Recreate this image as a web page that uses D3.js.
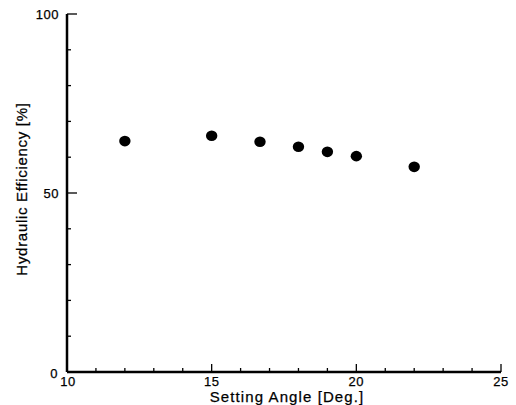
<!DOCTYPE html>
<html><head><meta charset="utf-8">
<script src="https://cdn.jsdelivr.net/npm/d3@7"></script>
<style>body{margin:0;background:#fff}svg{display:block}text{font-family:"Liberation Sans",Arial,sans-serif;fill:#000;stroke:#000;stroke-width:0.25px}</style>
</head><body><svg id="c" width="516" height="405"></svg>
<script>
const angles = [12, 15, 16.67, 18, 19, 20, 22];
const efficiency = [64.5, 66.0, 64.3, 62.9, 61.5, 60.3, 57.3];
const xTicks = [10, 15, 20, 25];
const yTicks = [0, 50, 100];

const svg = d3.select("#c");
const x = d3.scaleLinear().domain([10, 25]).range([67, 501]);
const y = d3.scaleLinear().domain([0, 100]).range([372, 14]);

// x axis
const xa = svg.append("g").attr("transform", `translate(0,${y(0)})`);
xa.append("line").attr("x1", x(10)).attr("x2", x(25)).attr("stroke", "#000").attr("stroke-width", 2.5);
xa.selectAll(".mn").data(d3.range(10, 26)).enter().append("line")
  .attr("x1", d => x(d)).attr("x2", d => x(d)).attr("y1", 0)
  .attr("y2", d => xTicks.includes(d) ? -8 : -4).attr("stroke", "#000").attr("stroke-width", 1.3);
xa.selectAll(".lb").data(xTicks).enter().append("text")
  .attr("x", d => x(d) + (d === 10 ? 1 : 0)).attr("y", 13.5).attr("text-anchor", "middle")
  .attr("font-size", 13).attr("letter-spacing", 0.5).text(d => d);

// y axis
const ya = svg.append("g").attr("transform", `translate(${x(10)},0)`);
ya.append("line").attr("y1", y(0)).attr("y2", y(100)).attr("stroke", "#000").attr("stroke-width", 2.5);
ya.selectAll(".mn").data(d3.range(0, 101, 10)).enter().append("line")
  .attr("y1", d => y(d)).attr("y2", d => y(d)).attr("x1", 0)
  .attr("x2", d => yTicks.includes(d) ? 10 : 4).attr("stroke", "#000").attr("stroke-width", 1.3);
ya.selectAll(".lb").data(yTicks).enter().append("text")
  .attr("x", d => d === 0 ? -9 : -8).attr("y", d => y(d) + (d === 0 ? 1 : 0)).attr("dy", "0.35em")
  .attr("text-anchor", "end").attr("font-size", 13).attr("letter-spacing", 0.5).text(d => d);

// points
svg.selectAll(".pt").data(angles).enter().append("ellipse")
  .attr("cx", (d, i) => x(d)).attr("cy", (d, i) => y(efficiency[i]))
  .attr("rx", 5.7).attr("ry", 5.3).attr("fill", "#000");

// titles
svg.append("text").attr("x", 287).attr("y", 402).attr("text-anchor", "middle")
  .attr("font-size", 15).attr("letter-spacing", 1.1).text("Setting Angle [Deg.]");
svg.append("text").attr("transform", "translate(27,189) rotate(-90)").attr("text-anchor", "middle")
  .attr("font-size", 15).attr("letter-spacing", 0.7).text("Hydraulic Efficiency [%]");
</script></body></html>
